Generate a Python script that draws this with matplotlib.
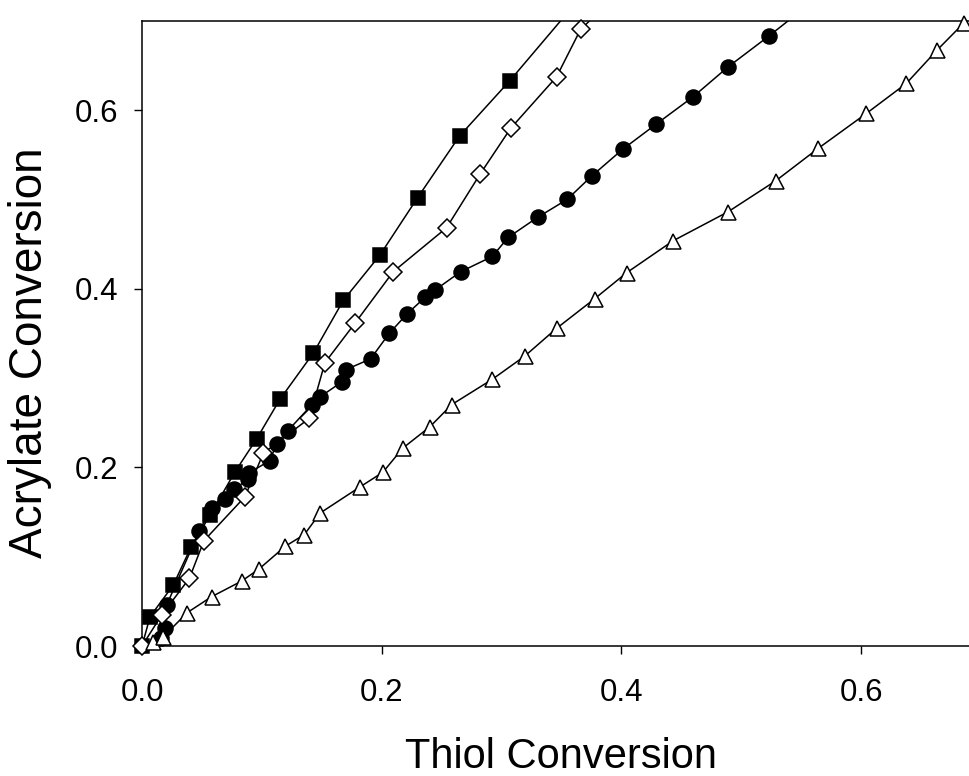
import numpy as np
import matplotlib.pyplot as plt

# thiol conversion (x) vs acrylate conversion (y)
sq_x = [0.0, 0.0067, 0.026, 0.041, 0.057, 0.0776, 0.0957, 0.115, 0.143, 0.168,
        0.1985, 0.230, 0.265, 0.307, 0.362]
sq_y = [0.0, 0.0328, 0.068, 0.111, 0.147, 0.195, 0.232, 0.276, 0.328, 0.387,
        0.4376, 0.502, 0.571, 0.633, 0.720]

ci_x = [0.016, 0.019, 0.0206, 0.0478, 0.0581, 0.0692, 0.0767, 0.0887, 0.0895, 0.1068,
        0.1123, 0.1218, 0.1415, 0.1489, 0.1666, 0.1704, 0.1907, 0.2063, 0.2213, 0.2364,
        0.2444, 0.2658, 0.2923, 0.3055, 0.330, 0.3547, 0.3751, 0.4009, 0.4287, 0.4598,
        0.489, 0.5229, 0.560]
ci_y = [0.009, 0.020, 0.0459, 0.1287, 0.155, 0.165, 0.1752, 0.187, 0.194, 0.2076,
        0.2266, 0.2412, 0.2697, 0.2792, 0.2955, 0.3095, 0.3214, 0.350, 0.372, 0.3906,
        0.3984, 0.4189, 0.4361, 0.4574, 0.4798, 0.4999, 0.526, 0.5559, 0.5839, 0.6148,
        0.6483, 0.6827, 0.722]

di_x = [0.0, 0.0164, 0.0395, 0.0517, 0.0859, 0.1012, 0.1395, 0.1526, 0.1776, 0.2096,
        0.2541, 0.2819, 0.3075, 0.3459, 0.3659, 0.390]
di_y = [0.0, 0.0347, 0.0757, 0.1179, 0.1671, 0.2157, 0.2548, 0.3171, 0.3612, 0.4190,
        0.4682, 0.5279, 0.5794, 0.6372, 0.6902, 0.721]

tr_x = [0.009, 0.0178, 0.0379, 0.0581, 0.0832, 0.0978, 0.1195, 0.1354, 0.1487, 0.1818,
        0.201, 0.2174, 0.2402, 0.2585, 0.2922, 0.3194, 0.3459, 0.3778, 0.4043, 0.4431,
        0.489, 0.5288, 0.5641, 0.6044, 0.6377, 0.6633, 0.6858]
tr_y = [0.005, 0.0104, 0.0375, 0.0552, 0.0727, 0.0864, 0.1116, 0.1247, 0.1489, 0.178,
        0.1945, 0.2213, 0.2454, 0.2703, 0.2985, 0.3246, 0.3556, 0.3889, 0.4178, 0.4536,
        0.4861, 0.5208, 0.557, 0.5962, 0.6298, 0.667, 0.6976]

plt.rcParams['font.family'] = ['Liberation Sans', 'DejaVu Sans']

fig = plt.figure(figsize=(9.69, 7.76), dpi=100)
ax = fig.add_axes([142 / 969, 130 / 776, 839 / 969, 625.3 / 776])

series = [
    (sq_x, sq_y, 's', 'black', 9.6),
    (ci_x, ci_y, 'o', 'black', 10.8),
    (di_x, di_y, 'D', 'white', 8.7),
    (tr_x, tr_y, '^', 'white', 10.8),
]
for xs, ys, mk, fc, ms in series:
    xs = np.array(xs)
    ys = np.array(ys)
    ax.plot(xs, ys, '-', color='black', lw=1.1, zorder=2)
    keep = ys <= 0.7
    ax.plot(xs[keep], ys[keep], ls='none', marker=mk, ms=ms, mfc=fc, mec='black',
            mew=1.1, clip_on=False, zorder=3)

ax.set_xlim(0, 0.7)
ax.set_ylim(0, 0.7)
ax.set_xticks([0.0, 0.2, 0.4, 0.6])
ax.set_yticks([0.0, 0.2, 0.4, 0.6])
ax.set_xticklabels(['0.0', '0.2', '0.4', '0.6'])
ax.set_yticklabels(['0.0', '0.2', '0.4', '0.6'])
ax.tick_params(direction='out', length=5.8, width=1.0, labelsize=22.5)
ax.tick_params(axis='x', pad=17)
ax.tick_params(axis='y', pad=11.5)
for sp in ax.spines.values():
    sp.set_linewidth(1.1)

fig.text(561 / 969, 1 - 768 / 776, 'Thiol Conversion', fontsize=30,
         ha='center', va='baseline')
fig.text(30 / 969, 1 - 353 / 776, 'Acrylate Conversion', fontsize=33,
         ha='center', va='center', rotation=90)

fig.savefig('out.png', dpi=100)
